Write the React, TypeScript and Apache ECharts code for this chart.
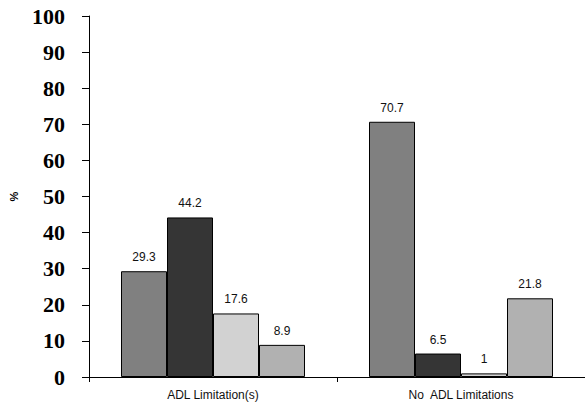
import React, { useEffect, useRef } from "react";
import * as echarts from "echarts";

const categories = ["ADL Limitation(s)", "No  ADL Limitations"];
const seriesNames = ["Group 1", "Group 2", "Group 3", "Group 4"];
const seriesValues = [
  [29.3, 70.7],
  [44.2, 6.5],
  [17.6, 1],
  [8.9, 21.8],
];
const seriesColors = ["#808080", "#353535", "#d2d2d2", "#b1b1b1"];
const yTicks = { min: 0, max: 100, interval: 10 };

export default function App() {
  const ref = useRef<HTMLDivElement>(null);

  useEffect(() => {
    if (!ref.current) return;
    const chart = echarts.init(ref.current, null, { renderer: "svg" });
    chart.setOption({
      animation: false,
      backgroundColor: "#ffffff",
      grid: { left: 83, top: 16, width: 506, height: 361, containLabel: false },
      xAxis: {
        type: "category",
        data: categories,
        axisLine: { lineStyle: { color: "#000", width: 1 } },
        axisTick: { show: true, length: 5, alignWithLabel: false, lineStyle: { color: "#000" } },
        axisLabel: {
          color: "#111",
          fontFamily: "Liberation Sans, Arial, sans-serif",
          fontSize: 12,
          margin: 12,
        },
      },
      yAxis: {
        type: "value",
        min: yTicks.min,
        max: yTicks.max,
        interval: yTicks.interval,
        name: "%",
        nameLocation: "middle",
        nameGap: 70,
        nameRotate: 90,
        nameTextStyle: {
          color: "#000",
          fontFamily: "Liberation Sans, Arial, sans-serif",
          fontSize: 11,
          fontWeight: "bold",
        },
        splitLine: { show: false },
        axisLine: { show: true, lineStyle: { color: "#000", width: 1 } },
        axisTick: { show: true, length: 7, lineStyle: { color: "#000" } },
        axisLabel: {
          color: "#000",
          fontFamily: "Liberation Serif, Times New Roman, serif",
          fontWeight: "bold",
          fontSize: 22,
          margin: 24,
        },
      },
      series: seriesValues.map((vals, i) => ({
        name: seriesNames[i],
        type: "bar",
        data: vals,
        barWidth: 46,
        barGap: "0%",
        itemStyle: { color: seriesColors[i], borderColor: "#000", borderWidth: 1 },
        label: {
          show: true,
          position: "top",
          distance: 8,
          color: "#111",
          fontFamily: "Liberation Sans, Arial, sans-serif",
          fontSize: 12,
        },
      })),
    });
    return () => chart.dispose();
  }, []);

  return (
    <div
      ref={ref}
      style={{ position: "fixed", left: 0, top: 0, width: 585, height: 406 }}
    />
  );
}
